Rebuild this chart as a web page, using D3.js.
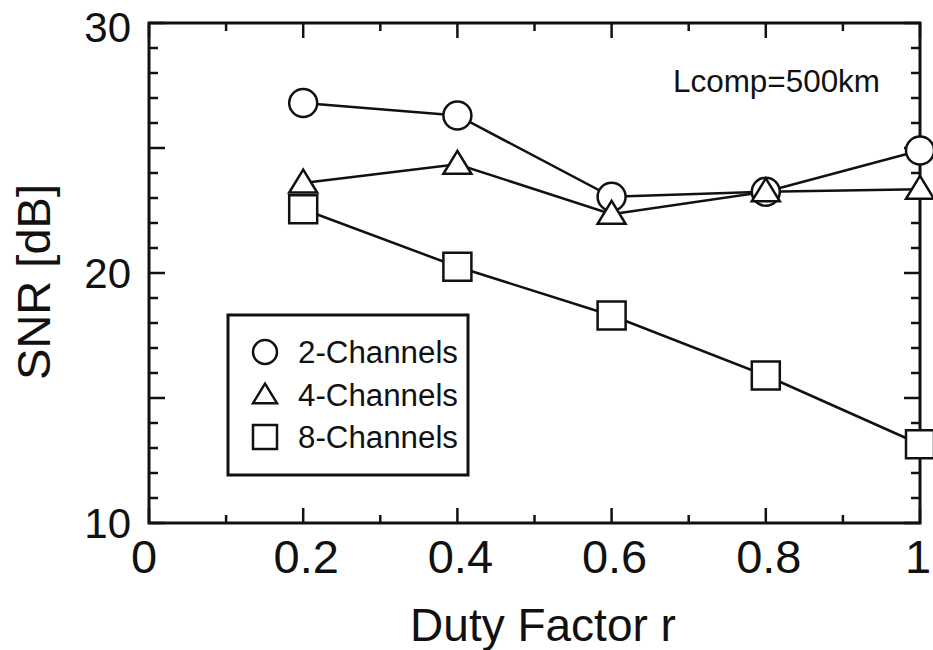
<!DOCTYPE html>
<html>
<head>
<meta charset="utf-8">
<script src="https://cdn.jsdelivr.net/npm/d3@7"></script>
<style>
  html, body { margin: 0; padding: 0; background: #fff; }
  svg { display: block; }
  text { font-family: "Liberation Sans", Arial, Helvetica, sans-serif; fill: #111; }
</style>
</head>
<body>
<svg id="chart" width="933" height="650"></svg>
<script>
// ---- data ----
const dutyFactor = [0.2, 0.4, 0.6, 0.8, 1.0];
const snr2ch = [26.8, 26.3, 23.05, 23.25, 24.9];
const snr4ch = [23.6, 24.35, 22.35, 23.25, 23.35];
const snr8ch = [22.55, 20.25, 18.3, 15.9, 13.15];
const seriesNames = ["2-Channels", "4-Channels", "8-Channels"];
const seriesShapes = ["circle", "triangle", "square"];
const xTickLabels = ["0", "0.2", "0.4", "0.6", "0.8", "1"];
const xTickValues = [0, 0.2, 0.4, 0.6, 0.8, 1];
const yTickValues = [10, 20, 30];
const annotation = "Lcomp=500km";

(function () {
const svg = d3.select("#chart");
const pL = 149, pR = 920, pT = 23, pB = 523;
const x = d3.scaleLinear().domain([0, 1]).range([pL, pR]);
const y = d3.scaleLinear().domain([10, 30]).range([pB, pT]);

const ink = "#111";

// ---- ticks (inward, all four sides) ----
const xMinor = d3.range(0, 1.0001, 0.1);
const yMinor = d3.range(10, 30.0001, 1);
const isMajX = v => Math.abs(Math.round(v * 5) - v * 5) < 1e-6;
const isMajY = v => Math.abs(v % 5) < 1e-6;
const tg = svg.append("g").attr("stroke", ink).attr("stroke-width", 2.5);
xMinor.forEach(v => {
  const L = isMajX(v) ? 15 : 8;
  tg.append("line").attr("x1", x(v)).attr("x2", x(v)).attr("y1", pB).attr("y2", pB - L);
  tg.append("line").attr("x1", x(v)).attr("x2", x(v)).attr("y1", pT).attr("y2", pT + L);
});
yMinor.forEach(v => {
  const L = isMajY(v) ? 16 : 9;
  tg.append("line").attr("y1", y(v)).attr("y2", y(v)).attr("x1", pL).attr("x2", pL + L);
  tg.append("line").attr("y1", y(v)).attr("y2", y(v)).attr("x1", pR).attr("x2", pR - L);
});

// ---- frame ----
svg.append("rect").attr("x", pL).attr("y", pT)
  .attr("width", pR - pL).attr("height", pB - pT)
  .attr("fill", "none").attr("stroke", ink).attr("stroke-width", 3);

// ---- tick labels ----
svg.append("g").selectAll("text").data(xTickValues).join("text")
  .attr("x", d => x(d) + (d === 0 ? -5 : d === 1 ? -2 : 3)).attr("y", 573)
  .attr("text-anchor", "middle").attr("font-size", 47)
  .text((d, i) => xTickLabels[i]);
svg.append("g").selectAll("text").data(yTickValues).join("text")
  .attr("x", 131).attr("y", d => y(d) + 15 + (d === 30 ? 4 : 0))
  .attr("text-anchor", "end").attr("font-size", 42)
  .text(d => d);

// ---- axis titles ----
svg.append("text").attr("x", 543).attr("y", 641).attr("text-anchor", "middle")
  .attr("font-size", 46).text("Duty Factor r");
svg.append("text").attr("transform", "translate(50,282) rotate(-90)")
  .attr("text-anchor", "middle").attr("font-size", 47).text("SNR [dB]");

// ---- annotation ----
svg.append("text").attr("x", 673).attr("y", 92).attr("font-size", 31)
  .attr("fill", "#333").attr("textLength", 207).attr("lengthAdjust", "spacingAndGlyphs")
  .text(annotation);

// ---- markers ----
function drawMarker(g, shape, cx, cy, s) {
  if (shape === "circle") {
    g.append("circle").attr("cx", cx).attr("cy", cy).attr("r", s);
  } else if (shape === "triangle") {
    g.append("path").attr("d", `M${cx},${cy - s * 0.95} L${cx + s},${cy + s * 0.68} L${cx - s},${cy + s * 0.68} Z`);
  } else {
    g.append("rect").attr("x", cx - s).attr("y", cy - s).attr("width", 2 * s).attr("height", 2 * s);
  }
}

// ---- series ----
const allSeries = [snr2ch, snr4ch, snr8ch];
const line = d3.line().x(d => x(d[0])).y(d => y(d[1]));
allSeries.forEach(vals => {
  const pts = dutyFactor.map((d, i) => [d, vals[i]]);
  svg.append("path").datum(pts).attr("d", line)
    .attr("fill", "none").attr("stroke", ink).attr("stroke-width", 2.5);
});
allSeries.forEach((vals, si) => {
  const g = svg.append("g").attr("fill", "#fff").attr("stroke", ink).attr("stroke-width", 2.5);
  dutyFactor.forEach((d, i) => drawMarker(g, seriesShapes[si], x(d), y(vals[i]), 14));
});

// ---- legend ----
svg.append("rect").attr("x", 228).attr("y", 315).attr("width", 240).attr("height", 160)
  .attr("fill", "#fff").attr("stroke", ink).attr("stroke-width", 3);
const legendY = [352, 395, 437];
seriesNames.forEach((name, i) => {
  const g = svg.append("g").attr("fill", "#fff").attr("stroke", ink).attr("stroke-width", 2.5);
  drawMarker(g, seriesShapes[i], 265, legendY[i], 12);
  svg.append("text").attr("x", 298).attr("y", legendY[i] + 11).attr("font-size", 31)
    .attr("textLength", 160).attr("lengthAdjust", "spacingAndGlyphs").text(name);
});
})();
</script>
</body>
</html>
